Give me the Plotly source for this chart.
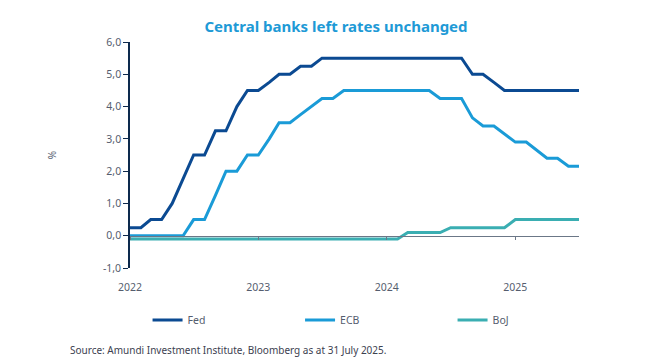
import plotly.graph_objects as go
import pandas as pd

dates = pd.date_range("2022-01-01", "2025-07-01", freq="MS")

fed = [0.25, 0.25, 0.5, 0.5, 1.0, 1.75, 2.5, 2.5, 3.25, 3.25, 4.0, 4.5,
       4.5, 4.75, 5.0, 5.0, 5.25, 5.25, 5.5, 5.5, 5.5, 5.5, 5.5, 5.5,
       5.5, 5.5, 5.5, 5.5, 5.5, 5.5, 5.5, 5.5, 5.0, 5.0, 4.75, 4.5,
       4.5, 4.5, 4.5, 4.5, 4.5, 4.5, 4.5]
ecb = [0.0, 0.0, 0.0, 0.0, 0.0, 0.0, 0.5, 0.5, 1.25, 2.0, 2.0, 2.5,
       2.5, 3.0, 3.5, 3.5, 3.75, 4.0, 4.25, 4.25, 4.5, 4.5, 4.5, 4.5,
       4.5, 4.5, 4.5, 4.5, 4.5, 4.25, 4.25, 4.25, 3.65, 3.4, 3.4, 3.15,
       2.9, 2.9, 2.65, 2.4, 2.4, 2.15, 2.15]
boj = [-0.1] * 26 + [0.1, 0.1, 0.1, 0.1, 0.25, 0.25, 0.25, 0.25, 0.25, 0.25,
                     0.5, 0.5, 0.5, 0.5, 0.5, 0.5, 0.5]

series = [("Fed", fed, "#0b4a92"), ("ECB", ecb, "#1a9bd7"), ("BoJ", boj, "#3aaeb2")]
yticks = [-1, 0, 1, 2, 3, 4, 5, 6]
ytick_text = ["-1,0", "0,0", "1,0", "2,0", "3,0", "4,0", "5,0", "6,0"]
xtick_vals = ["2022-01-01", "2023-01-01", "2024-01-01", "2025-01-01"]
xtick_text = ["2022", "2023", "2024", "2025"]

FONT = "Noto Sans"
fig = go.Figure()
for name, vals, col in series:
    fig.add_trace(go.Scatter(x=dates, y=vals, name=name, mode="lines",
                             line=dict(color=col, width=3)))
# invisible trace on the zero-line axis
fig.add_trace(go.Scatter(x=[dates[0], dates[-1]], y=[None, None], xaxis="x2",
                         showlegend=False, hoverinfo="skip"))

xr = [dates[0], dates[-1]]
# page body has an 8px default margin, so the figure is offset by 8px
fig.update_layout(
    width=648, height=364,
    margin=dict(l=122, r=77, t=34, b=104),
    paper_bgcolor="white", plot_bgcolor="white",
    font=dict(family=FONT, color="#555d6e", size=10),
    title=dict(text="<b>Central banks left rates unchanged</b>", x=328 / 648, xanchor="center",
               xref="container", y=1 - 19 / 364, yanchor="middle",
               font=dict(size=15, color="#1e9ad6", family=FONT)),
    xaxis=dict(range=xr, tickvals=xtick_vals, ticktext=xtick_text, showline=False,
               showgrid=False, zeroline=False, ticks="outside", ticklen=9,
               tickcolor="rgba(0,0,0,0)", tickfont=dict(size=10.5, color="#555d6e")),
    xaxis2=dict(range=xr, overlaying="x", anchor="free", position=1/7, showline=True,
                linecolor="#6b7787", linewidth=1, tickvals=xtick_vals, showticklabels=False,
                ticks="outside", ticklen=3, tickcolor="#6b7787", showgrid=False, zeroline=False),
    yaxis=dict(range=[-1, 6], tickvals=yticks, ticktext=ytick_text, showline=True,
               linecolor="#0d2a4d", linewidth=1.5, ticks="outside", ticklen=5,
               tickcolor="#0d2a4d", showgrid=False, zeroline=False,
               title=dict(text="%", font=dict(size=10, color="#555d6e"), standoff=44),
               tickfont=dict(size=10.5, color="#555d6e")),
    legend=dict(orientation="h", x=-0.001, xanchor="left", indentation=18,
                y=(260 - 312) / 226, yanchor="middle",
                entrywidth=89.5, entrywidthmode="pixels", font=dict(size=10.5, color="#555d6e"),
                itemwidth=30, tracegroupgap=0),
    showlegend=True,
)
fig.add_annotation(text="Source: Amundi Investment Institute, Bloomberg as at 31 July 2025.",
                   xref="paper", yref="paper", x=(60 - 122) / 449, y=(260 - 342) / 226,
                   xanchor="left", yanchor="middle", showarrow=False,
                   font=dict(size=10, color="#3c4150", family=FONT))
fig.write_html("out.html")
